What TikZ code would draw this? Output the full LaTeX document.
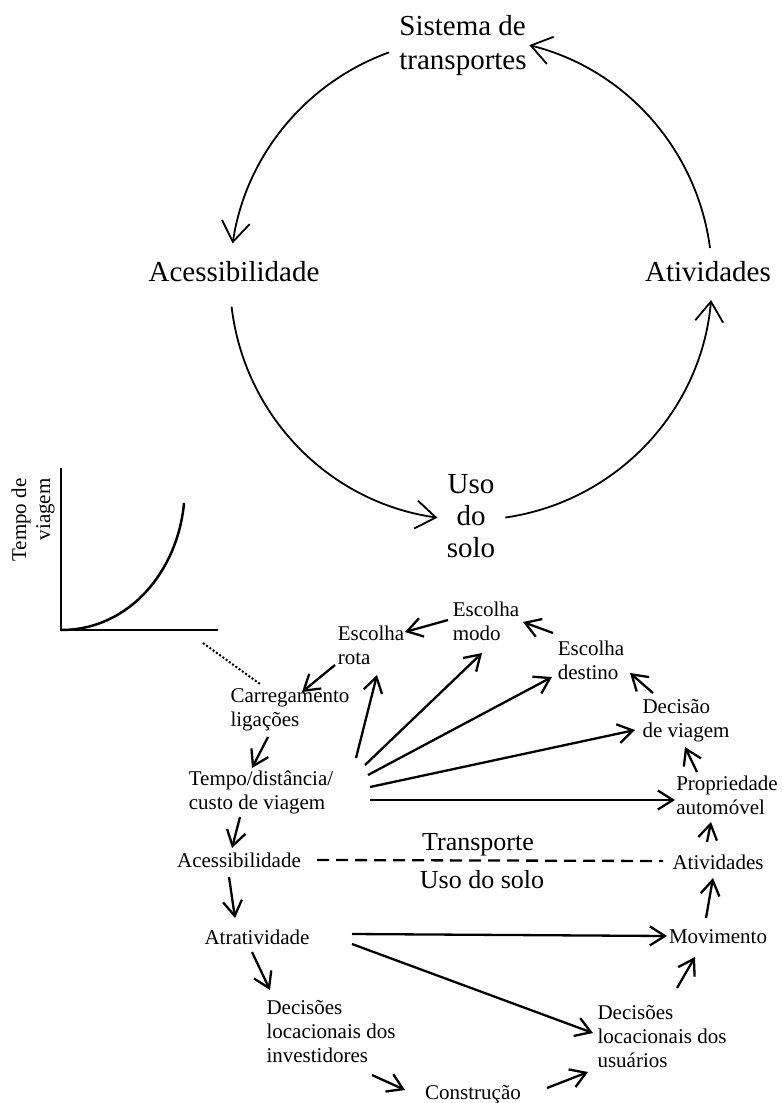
\documentclass[tikz,border=0pt]{standalone}
\usepackage{fontspec}
\setmainfont{Liberation Serif}
\usetikzlibrary{arrows.meta,calc}
\begin{document}
\begin{tikzpicture}[x=1pt,y=1pt,
  big/.style={font=\fontsize{29}{34}\selectfont, inner sep=0pt, align=left},
  sm/.style={font=\fontsize{21}{24}\selectfont, inner sep=0pt, align=left},
  mid/.style={font=\fontsize{26}{30}\selectfont, inner sep=0pt},
  cyc/.style={line width=1.8pt, -{Straight Barb[length=20pt,width=28pt]}},
  arr/.style={line width=2.3pt, -{Straight Barb[length=15pt,width=19pt]}},
  axis/.style={line width=2.5pt},
]
\useasboundingbox (0,0) rectangle (782,-1103);
\fill[white] (0,0) rectangle (782,-1103);

% ---------- top cycle ----------
\node[big] (sist) at (463,-46) {Sistema de\\transportes};
\node[big] (aces) at (234,-272) {Acessibilidade};
\node[big] (ativ) at (708,-272) {Atividades};
\node[big, align=center, font=\fontsize{29}{32}\selectfont] (uso) at (471,-516) {Uso\\do\\solo};
\coordinate (C) at (471,-279);
\draw[cyc] ($(C)+(7.4:241)$) arc[start angle=7.4,end angle=76,radius=241];
\draw[cyc] ($(C)+(109.9:241)$) arc[start angle=109.9,end angle=171.5,radius=241];
\draw[cyc] ($(C)+(186.6:241)$) arc[start angle=186.6,end angle=262,radius=241];
\draw[cyc] ($(C)+(278.2:241)$) arc[start angle=278.2,end angle=355,radius=241];

% ---------- graph inset ----------
\draw[axis] (61,-468) -- (61,-630) -- (218,-630);
\draw[axis] (61,-630) .. controls (130,-630) and (178,-570) .. (184,-503);
\node[sm, align=right, rotate=90] (glab) at (33,-520) {Tempo de\\viagem};
\coordinate (gx) at (203,-643);

% ---------- lower diagram nodes ----------
\node[sm] (rota) at (371,-645) {Escolha\\rota};
\node[sm] (modo) at (486,-621) {Escolha\\modo};
\node[sm] (dest) at (591,-660) {Escolha\\destino};
\node[sm] (decv) at (686,-721) {Decisão\\de viagem};
\node[sm] (prop) at (727,-795) {Propriedade\\automóvel};
\node[sm] (carr) at (290,-710) {Carregamento\\ligações};
\node[sm] (tempo) at (261,-792) {Tempo/distância/\\custo de viagem};
\node[sm] (acs) at (239,-860) {Acessibilidade};
\node[sm] (ativs) at (718,-862) {Atividades};
\node[sm] (atr) at (257,-937) {Atratividade};
\node[sm] (mov) at (718,-937) {Movimento};
\node[sm] (dinv) at (331,-1032) {Decisões\\locacionais dos\\investidores};
\node[sm] (dusu) at (662,-1037) {Decisões\\locacionais dos\\usuários};
\node[sm] (constr) at (473,-1095) {Construção};
\node[mid] (transp) at (478,-845) {Transporte};
\node[mid] (usolo) at (482,-880) {Uso do solo};

% ---------- lower diagram connectors ----------
\draw[arr] ($(modo)+(-38,1)$) -- ($(rota)+(34,13)$);
\draw[arr] ($(dest)+(-38,27)$) -- ($(modo)+(37,-1)$);
\draw[arr] ($(decv)+(-33,28)$) -- ($(dest)+(39,-13)$);
\draw[arr] ($(prop)+(-30,23)$) -- ($(decv)+(-1,-26)$);
\draw[arr] ($(ativs)+(-11,20)$) -- ($(prop)+(-16,-27)$);
\draw[arr] ($(mov)+(-12,19)$) -- ($(ativs)+(-5,-16)$);
\draw[arr] ($(dusu)+(15,49)$) -- ($(mov)+(-23,-20)$);
\draw[arr] ($(constr)+(74,7)$) -- ($(dusu)+(-74,-35)$);
\draw[arr] ($(dinv)+(41,-43)$) -- ($(constr)+(-68,5)$);
\draw[arr] ($(atr)+(-5,-15)$) -- ($(dinv)+(-61,42)$);
\draw[arr] ($(acs)+(-10,-17)$) -- ($(atr)+(-22,19)$);
\draw[arr] ($(tempo)+(-21,-25)$) -- ($(acs)+(-7,12)$);
\draw[arr] ($(carr)+(-22,-27)$) -- ($(tempo)+(-9,24)$);
\draw[arr] ($(rota)+(-36,-20)$) -- ($(carr)+(12,18)$);
\draw[arr] ($(tempo)+(95,34)$) -- ($(rota)+(6,-30)$);
\draw[arr] ($(tempo)+(104,27)$) -- ($(modo)+(-4,-32)$);
\draw[arr] ($(tempo)+(107,17)$) -- ($(dest)+(-39,-17)$);
\draw[arr] ($(tempo)+(109,5)$) -- ($(decv)+(-51,-9)$);
\draw[arr] ($(tempo)+(109,-8)$) -- ($(prop)+(-52,-5)$);
\draw[arr] ($(atr)+(95,3)$) -- ($(mov)+(-51,1)$);
\draw[arr] ($(atr)+(95,-7)$) -- ($(dusu)+(-69,4)$);
\draw[line width=2.3pt, dash pattern=on 12pt off 7pt] ($(acs)+(78,0)$) -- ($(ativs)+(-55,1)$);
\draw[line width=2pt, dash pattern=on 2pt off 2pt] (gx) -- ($(carr)+(-30,26)$);
\end{tikzpicture}
\end{document}
